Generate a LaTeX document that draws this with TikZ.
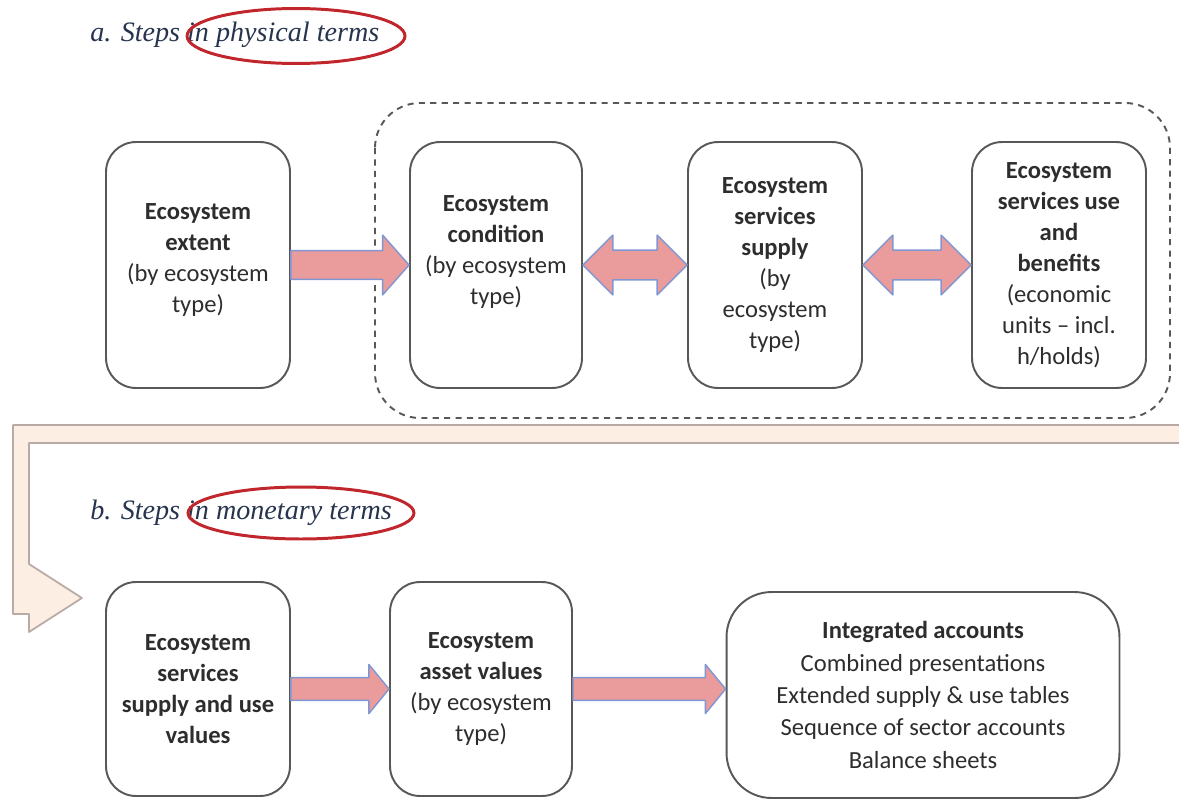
\documentclass[tikz,border=0pt]{standalone}
\usepackage{fontspec}
\setmainfont{Carlito}
\newfontfamily\headfont{Liberation Serif}
\usetikzlibrary{calc}
\definecolor{boxline}{RGB}{88,88,88}
\definecolor{boxtext}{RGB}{45,45,45}
\definecolor{arrowfill}{RGB}{234,155,155}
\definecolor{arrowline}{RGB}{128,150,210}
\definecolor{headcol}{RGB}{38,52,78}
\definecolor{ringred}{RGB}{192,38,44}
\definecolor{bandfill}{RGB}{252,238,226}
\definecolor{bandline}{RGB}{185,170,165}
\newcommand{\fatarrow}[5]{%
  \filldraw[blockarrow] let \p1=(#1), \p2=(#2) in
    (\x1,\y1+#3) -- (\x2-#5,\y1+#3) -- (\x2-#5,\y1+#4) -- (\x2,\y1)
    -- (\x2-#5,\y1-#4) -- (\x2-#5,\y1-#3) -- (\x1,\y1-#3) -- cycle;}
\newcommand{\twinarrow}[5]{%
  \filldraw[blockarrow] let \p1=(#1), \p2=(#2) in
    (\x1,\y1) -- (\x1+#5,\y1+#4) -- (\x1+#5,\y1+#3) -- (\x2-#5,\y1+#3)
    -- (\x2-#5,\y1+#4) -- (\x2,\y1) -- (\x2-#5,\y1-#4) -- (\x2-#5,\y1-#3)
    -- (\x1+#5,\y1-#3) -- (\x1+#5,\y1-#4) -- cycle;}
\begin{document}
\begin{tikzpicture}[x=0.02cm,y=-0.02cm,
    ecobox/.style={draw=boxline,line width=1.1pt,rounded corners=0.6cm,align=center,
      text=boxtext,inner sep=2pt,font=\fontsize{14}{17.6}\selectfont},
    blockarrow/.style={fill=arrowfill,draw=arrowline,line width=0.8pt,line join=round},
    heading/.style={font=\headfont\itshape\fontsize{16}{19}\selectfont,text=headcol,inner sep=0pt,anchor=west},
    ringmark/.style={draw=ringred,line width=1.7pt}]
  \useasboundingbox (0,0) rectangle (1179,801);
  \filldraw[fill=bandfill,draw=bandline,line width=1pt,line join=round]
    (1190,425) -- (13,425) -- (13,614) -- (29,614) -- (29,632) -- (82,598)
    -- (29,564) -- (29,443) -- (1190,443) -- cycle;
  \node[heading] (stepsa) at (90,35) {a. Steps in physical terms};
  \draw[ringmark] (296,36) ellipse [x radius=2.18cm, y radius=0.55cm];
  \node[heading] (stepsb) at (90,513) {b. Steps in monetary terms};
  \draw[ringmark] (301,513) ellipse [x radius=2.26cm, y radius=0.52cm];
  \draw[draw=boxline,line width=1.1pt,dash pattern=on 3.5pt off 3pt,rounded corners=0.9cm]
    (375,103) rectangle (1170,418);
  \node[ecobox,minimum width=3.68cm,minimum height=4.92cm] (extent) at (198,265)
    {\textbf{Ecosystem}\\\textbf{extent}\\(by ecosystem\\type)\\[-9.6pt]\mbox{}};
  \node[ecobox,minimum width=3.44cm,minimum height=4.92cm] (cond) at (496,265)
    {\textbf{Ecosystem}\\\textbf{condition}\\(by ecosystem\\type)\\[-0.6pt]\mbox{}};
  \node[ecobox,minimum width=3.48cm,minimum height=4.92cm] (supply) at (775,265)
    {\textbf{Ecosystem}\\\textbf{services}\\\textbf{supply}\\(by\\ecosystem\\type)};
  \node[ecobox,minimum width=3.48cm,minimum height=4.92cm] (usebnf) at (1059,265)
    {\textbf{Ecosystem}\\\textbf{services use}\\\textbf{and}\\\textbf{benefits}\\(economic\\units -- incl.\\h/holds)};
  \node[ecobox,minimum width=3.68cm,minimum height=4.28cm] (suval) at (198,689)
    {\textbf{Ecosystem}\\\textbf{services}\\\textbf{supply and use}\\\textbf{values}};
  \node[ecobox,minimum width=3.64cm,minimum height=4.28cm] (asset) at (481,689)
    {\textbf{Ecosystem}\\\textbf{asset values}\\(by ecosystem\\type)};
  \node[ecobox,minimum width=7.86cm,minimum height=4.12cm,rounded corners=0.9cm,
    font=\fontsize{14}{18.4}\selectfont] (integ) at (923,695)
    {\textbf{Integrated accounts}\\Combined presentations\\Extended supply \& use tables\\Sequence of sector accounts\\Balance sheets};
  \fatarrow{extent.east}{cond.west}{8.2pt}{17pt}{15pt}
  \twinarrow{cond.east}{supply.west}{8.5pt}{17pt}{17pt}
  \twinarrow{supply.east}{usebnf.west}{8.5pt}{17pt}{17pt}
  \fatarrow{suval.east}{asset.west}{6.5pt}{14pt}{11.5pt}
  \fatarrow{asset.east}{integ.west}{6.5pt}{14pt}{11.5pt}
\end{tikzpicture}
\end{document}
